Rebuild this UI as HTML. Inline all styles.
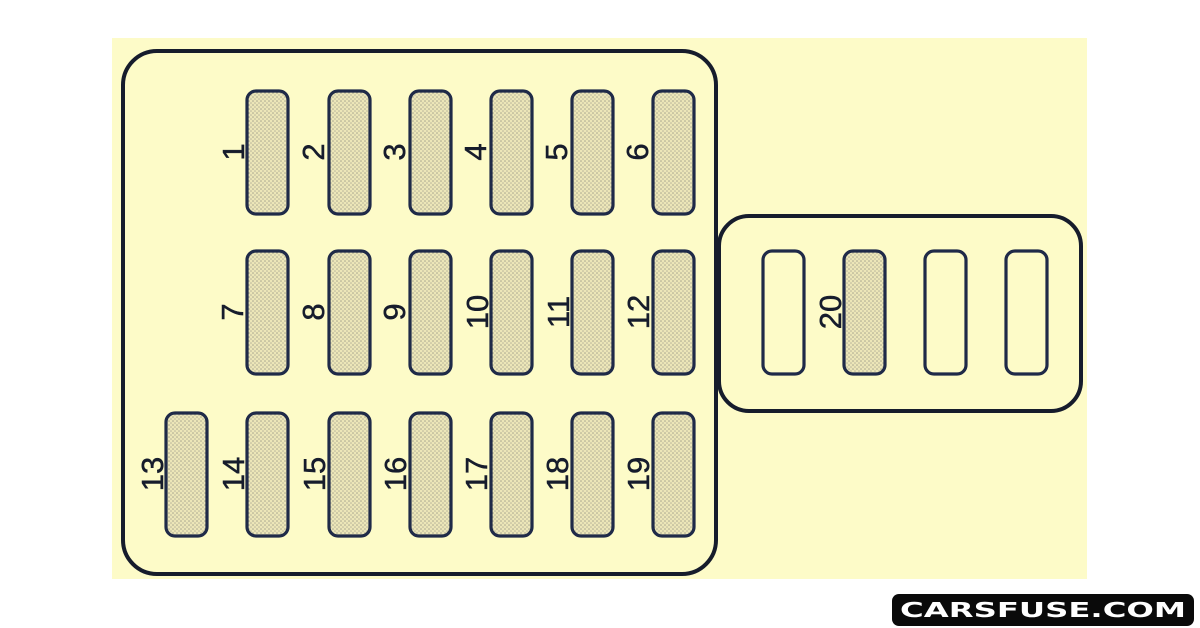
<!DOCTYPE html>
<html><head><meta charset="utf-8"><style>
html,body{margin:0;padding:0;background:#fff;}
svg{display:block;}
</style></head><body>
<svg width="1200" height="628" viewBox="0 0 1200 628" xmlns="http://www.w3.org/2000/svg">
<defs>
<pattern id="dots" x="0" y="0" width="4" height="4" patternUnits="userSpaceOnUse">
<rect width="4" height="4" fill="#ece6b8"/>
<circle cx="1" cy="1" r="0.8" fill="#a7a58e"/>
<circle cx="3" cy="3" r="0.8" fill="#b8b49a"/>
</pattern>
</defs>
<rect x="112" y="38" width="975" height="541" fill="#fdfbc8"/>
<rect x="123" y="51" width="593" height="523" rx="34" fill="none" stroke="#161c2c" stroke-width="4"/>
<rect x="719" y="216" width="362" height="195" rx="30" fill="#fdfbc8" stroke="#161c2c" stroke-width="4"/>
<line x1="716" y1="230" x2="716" y2="400" stroke="#161c2c" stroke-width="4"/>
<g stroke="#1f2a48" stroke-width="3.2" fill="url(#dots)">
<rect x="247" y="91" width="41" height="123" rx="9"/>
<rect x="329" y="91" width="41" height="123" rx="9"/>
<rect x="410" y="91" width="41" height="123" rx="9"/>
<rect x="491" y="91" width="41" height="123" rx="9"/>
<rect x="572" y="91" width="41" height="123" rx="9"/>
<rect x="653" y="91" width="41" height="123" rx="9"/>
<rect x="247" y="251" width="41" height="123" rx="9"/>
<rect x="329" y="251" width="41" height="123" rx="9"/>
<rect x="410" y="251" width="41" height="123" rx="9"/>
<rect x="491" y="251" width="41" height="123" rx="9"/>
<rect x="572" y="251" width="41" height="123" rx="9"/>
<rect x="653" y="251" width="41" height="123" rx="9"/>
<rect x="166" y="413" width="41" height="123" rx="9"/>
<rect x="247" y="413" width="41" height="123" rx="9"/>
<rect x="329" y="413" width="41" height="123" rx="9"/>
<rect x="410" y="413" width="41" height="123" rx="9"/>
<rect x="491" y="413" width="41" height="123" rx="9"/>
<rect x="572" y="413" width="41" height="123" rx="9"/>
<rect x="653" y="413" width="41" height="123" rx="9"/>
<rect x="844" y="251" width="41" height="123" rx="9"/>
</g>
<g stroke="#1f2a48" stroke-width="3.2" fill="#fdfbc8">
<rect x="763" y="251" width="41" height="123" rx="9"/>
<rect x="925" y="251" width="41" height="123" rx="9"/>
<rect x="1006" y="251" width="41" height="123" rx="9"/>
</g>
<g font-family="Liberation Sans, sans-serif" font-size="31" fill="#161c2c" text-anchor="middle" stroke="#161c2c" stroke-width="0.5">
<text transform="translate(244,152) rotate(-90)">1</text>
<text transform="translate(324,152) rotate(-90)">2</text>
<text transform="translate(405,152) rotate(-90)">3</text>
<text transform="translate(486,152) rotate(-90)">4</text>
<text transform="translate(567,152) rotate(-90)">5</text>
<text transform="translate(648,152) rotate(-90)">6</text>
<text transform="translate(243,312) rotate(-90)">7</text>
<text transform="translate(324,312) rotate(-90)">8</text>
<text transform="translate(405,312) rotate(-90)">9</text>
<text transform="translate(488,312) rotate(-90)">10</text>
<text transform="translate(569,312) rotate(-90)">11</text>
<text transform="translate(649,312) rotate(-90)">12</text>
<text transform="translate(163,474) rotate(-90)">13</text>
<text transform="translate(244,474) rotate(-90)">14</text>
<text transform="translate(325,474) rotate(-90)">15</text>
<text transform="translate(406,474) rotate(-90)">16</text>
<text transform="translate(487,474) rotate(-90)">17</text>
<text transform="translate(568,474) rotate(-90)">18</text>
<text transform="translate(649,474) rotate(-90)">19</text>
<text transform="translate(841,312) rotate(-90)">20</text>
</g>
<rect x="892" y="594" width="302" height="32" rx="7" fill="#0a0a0a"/>
<text x="1043" y="617" font-family="DejaVu Sans, Liberation Sans, sans-serif" font-weight="bold" font-size="20" fill="#fff" text-anchor="middle" textLength="286" lengthAdjust="spacingAndGlyphs">CARSFUSE.COM</text>
</svg>
</body></html>
